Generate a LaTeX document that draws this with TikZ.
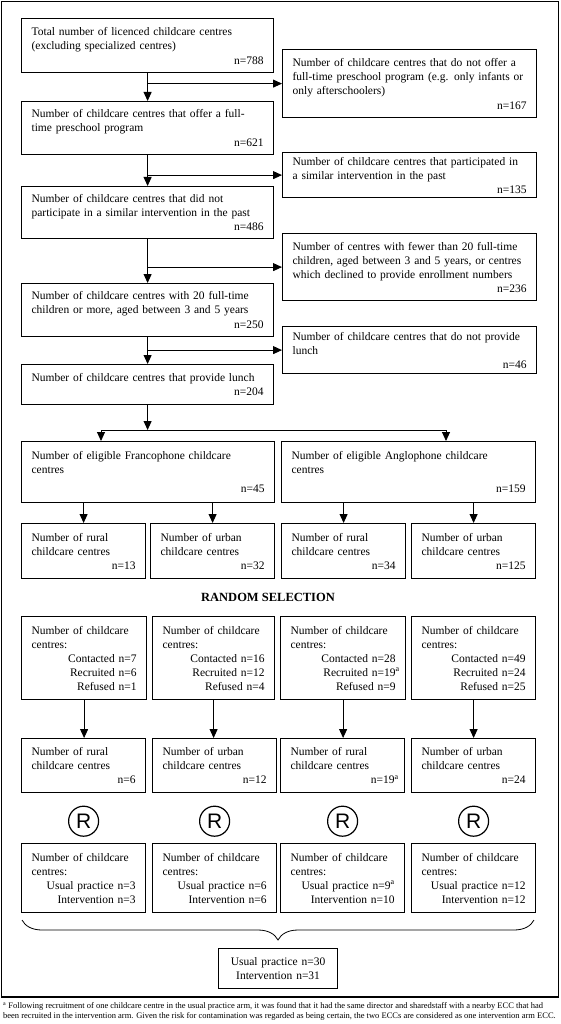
\documentclass[tikz,border=0pt]{standalone}
\usepackage{fontspec}
\setmainfont{Liberation Serif}
\newfontfamily\randfont{Liberation Sans}
\usetikzlibrary{arrows.meta, positioning, calc, decorations.pathreplacing}

\tikzset{
  flowbox/.style={draw, line width=1.2pt, anchor=north west, align=left,
    inner xsep=10pt, inner ysep=0pt, font=\fontsize{11.5}{14}\selectfont},
  boxsize/.style 2 args={minimum width=#1pt, minimum height=#2pt,
    text width=\dimexpr#1pt-20pt\relax},
  flowarrow/.style={-{Triangle[width=8pt,length=9pt]}, line width=0.9pt},
}

\begin{document}
\begin{tikzpicture}[x=1pt, y=-1pt]
  \useasboundingbox (0,0) rectangle (560,1024);
  \draw[line width=1.5pt] (1.5,1.5) rectangle (558.5,997);

  % main column
  \node[flowbox, boxsize={252}{54}] (total) at (21,18)
    {Total number of licenced childcare centres\\(excluding specialized centres)\\[1pt]\mbox{}\hfill n=788};
  \node[flowbox, boxsize={252}{53}] (fulltime) at (21,101)
    {Number of childcare centres that offer a full-\\time preschool program\\[1pt]\mbox{}\hfill n=621};
  \node[flowbox, boxsize={252}{52}] (noprior) at (21,186)
    {Number of childcare centres that did not\\participate in a similar intervention in the past\\\mbox{}\hfill n=486};
  \node[flowbox, boxsize={252}{53}] (enrol) at (21,283)
    {Number of childcare centres with 20 full-time\\children or more, aged between 3 and 5 years\\[1pt]\mbox{}\hfill n=250};
  \node[flowbox, boxsize={252}{40}] (lunch) at (21,364)
    {Number of childcare centres that provide lunch\\\mbox{}\hfill n=204};

  % excluded centres
  \node[flowbox, boxsize={254}{68}] (noft) at (282,49)
    {Number of childcare centres that do not offer a\\full-time preschool program (e.g. only infants or\\only afterschoolers)\\[1pt]\mbox{}\hfill n=167};
  \node[flowbox, boxsize={254}{45}] (prior) at (282,152)
    {Number of childcare centres that participated in\\a similar intervention in the past\\\mbox{}\hfill n=135};
  \node[flowbox, boxsize={254}{67}] (fewkids) at (282,233)
    {Number of centres with fewer than 20 full-time\\children, aged between 3 and 5 years, or centres\\which declined to provide enrollment numbers\\\mbox{}\hfill n=236};
  \node[flowbox, boxsize={254}{47}] (nolunch) at (282,326)
    {Number of childcare centres that do not provide\\lunch\\\mbox{}\hfill n=46};

  \draw[flowarrow] (total.south) -- (fulltime.north);
  \draw[flowarrow] (total.south |- noft.west) -- (noft.west);
  \draw[flowarrow] (fulltime.south) -- (noprior.north);
  \draw[flowarrow] (fulltime.south |- prior.west) -- (prior.west);
  \draw[flowarrow] (noprior.south) -- (enrol.north);
  \draw[flowarrow] (noprior.south |- fewkids.west) -- (fewkids.west);
  \draw[flowarrow] (enrol.south) -- (lunch.north);
  \draw[flowarrow] (enrol.south |- nolunch.west) -- (nolunch.west);

  % language split
  \node[flowbox, boxsize={253}{61}] (fran) at (21,441)
    {Number of eligible Francophone childcare\\centres\\[5pt]\mbox{}\hfill n=45};
  \node[flowbox, boxsize={254}{61}] (angl) at (281,441)
    {Number of eligible Anglophone childcare\\centres\\[5pt]\mbox{}\hfill n=159};
  \coordinate (splitl) at (101,430);
  \coordinate (splitr) at (446,430);
  \draw[line width=0.9pt] (splitl) -- (splitr);
  \draw[flowarrow] (lunch.south) -- (lunch.south |- splitl);
  \draw[flowarrow] (splitl) -- (splitl |- fran.north);
  \draw[flowarrow] (splitr) -- (splitr |- angl.north);

  % rural / urban
  \foreach \i/\x/\w/\kind/\n in {1/21/124/rural/13, 2/150/124/urban/32,
      3/281/124/rural/34, 4/411/124/urban/125} {
    \node[flowbox, boxsize={\w}{55}] (area\i) at (\x,523)
      {Number of \kind\\childcare centres\\\mbox{}\hfill n=\n};
  }
  \foreach \i/\src in {1/fran, 2/fran, 3/angl, 4/angl}
    \draw[flowarrow] (\src.south -| area\i.north) -- (area\i.north);

  \node[font=\bfseries\fontsize{12.5}{14}\selectfont] (randsel) at (268,597) {RANDOM SELECTION};

  % recruitment
  \foreach \i/\x/\w/\cont/\recr/\refu in {1/21/125/7/6/1, 2/152/122/16/12/4,
      3/280/125/28/{19\rlap{\textsuperscript{a}}}/9, 4/411/124/49/24/25} {
    \node[flowbox, boxsize={\w}{83}] (recr\i) at (\x,616)
      {Number of childcare\\centres:\\\mbox{}\hfill Contacted n=\cont\\\mbox{}\hfill Recruited n=\recr\\\mbox{}\hfill Refused n=\refu};
  }
  \foreach \i/\kind/\n in {1/rural/6, 2/urban/12,
      3/rural/{19\rlap{\textsuperscript{a}}}, 4/urban/24} {
    \node[flowbox, boxsize={124}{54}] (samp\i) at (recr\i.south west |- 0,738)
      {Number of \kind\\childcare centres\\\mbox{}\hfill n=\n};
    \draw[flowarrow] (recr\i.south) -- (recr\i.south |- samp\i.north);
    \node[circle, draw, line width=1.2pt, minimum size=30pt, inner sep=0pt,
      font=\randfont\fontsize{21}{21}\selectfont] (rand\i) at ($(samp\i.south)+(0,28)$) {R};
  }

  % allocation
  \foreach \i/\usual/\interv in {1/3/3, 2/6/6, 3/{9\textsuperscript{a}}/10, 4/12/12} {
    \node[flowbox, boxsize={124}{69}] (alloc\i) at (recr\i.south west |- 0,843)
      {Number of childcare\\centres:\\\mbox{}\hfill Usual practice n=\usual\\\mbox{}\hfill Intervention n=\interv};
  }
  \draw[line width=0.8pt, decorate, decoration={brace, mirror, amplitude=20pt}]
    (22,920) -- (534,920);
  \node[flowbox, boxsize={119}{40}, align=center] (pooled) at (218,948)
    {Usual practice n=30\\Intervention n=31};

  \node[anchor=north west, align=left, inner sep=0pt, font=\fontsize{8.5}{10}\selectfont] (note) at (3,1002)
    {\textsuperscript{a} Following recruitment of one childcare centre in the usual practice arm, it was found that it had the same director and sharedstaff with a nearby ECC that had\\been recruited in the intervention arm. Given the risk for contamination was regarded as being certain, the two ECCs are considered as one intervention arm ECC.};
\end{tikzpicture}
\end{document}
